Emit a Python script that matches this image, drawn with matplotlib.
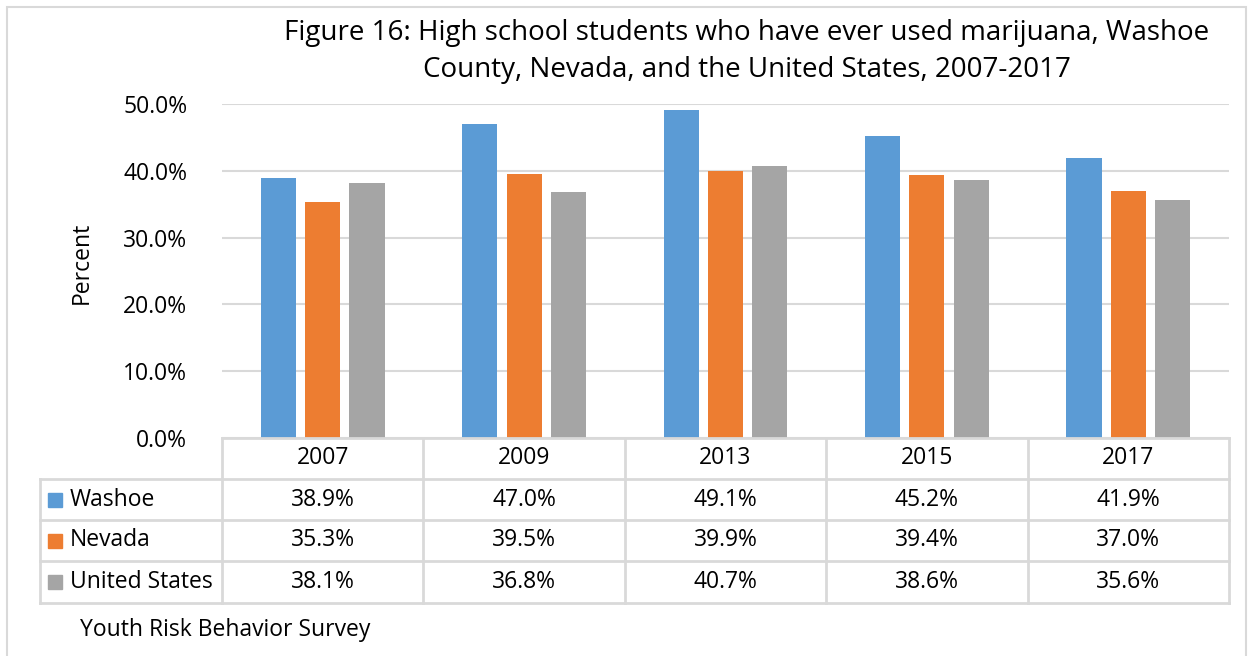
import numpy as np
import matplotlib.pyplot as plt
from matplotlib.patches import Rectangle
from matplotlib.lines import Line2D

years = ['2007', '2009', '2013', '2015', '2017']
series = ['Washoe', 'Nevada', 'United States']
washoe = [38.9, 47.0, 49.1, 45.2, 41.9]
nevada = [35.3, 39.5, 39.9, 39.4, 37.0]
usa = [38.1, 36.8, 40.7, 38.6, 35.6]
colors = ['#5B9BD5', '#ED7D31', '#A5A5A5']
grid_col = '#D9D9D9'

plt.rcParams['font.family'] = ['Open Sans', 'DejaVu Sans']

W, H = 1250, 656
fig = plt.figure(figsize=(W/100, H/100), dpi=100)
fs = 16.5

def fx(px):
    return px / W

def fy(py):
    return 1 - py / H

# plot area
x0, x1 = 222, 1229
y_top, y_bot = 104, 438
ax = fig.add_axes([fx(x0), fy(y_bot), fx(x1) - fx(x0), fy(y_top) - fy(y_bot)])
ax.set_xlim(-0.5, 4.5)
ax.set_ylim(0, 50)

x = np.arange(len(years))
bw = 0.174
step = 0.220
for k, vals in enumerate([washoe, nevada, usa]):
    ax.bar(x + (k - 1) * step, vals, width=bw, color=colors[k], zorder=3)

ax.set_yticks(np.arange(0, 51, 10))
ax.set_yticklabels(['%.1f%%' % v for v in np.arange(0, 51, 10)], fontsize=fs)
ax.yaxis.grid(True, color=grid_col, lw=1.5, zorder=0)
ax.tick_params(axis='y', length=0, pad=25)
ax.set_xticks([])
for s in ax.spines.values():
    s.set_visible(False)

# figure border
fig.add_artist(Rectangle((fx(7), fy(660)), fx(1246) - fx(7), fy(7) - fy(660),
                         transform=fig.transFigure, fill=False, ec=grid_col, lw=1.5))

# title
fig.text(fx(747), fy(33), 'Figure 16: High school students who have ever used marijuana, Washoe',
         ha='center', va='center', fontsize=20)
fig.text(fx(747), fy(70), 'County, Nevada, and the United States, 2007-2017',
         ha='center', va='center', fontsize=20)

fig.text(fx(82), fy(263), 'Percent', rotation=90, ha='center', va='center', fontsize=fs)

# data table below the axis
col_w = (x1 - x0) / len(years)
rows_y = [438, 479, 520, 561, 603]
tab_left = 40

def hline(py, xa, xb):
    fig.add_artist(Line2D([fx(xa), fx(xb)], [fy(py), fy(py)], transform=fig.transFigure,
                          color=grid_col, lw=2))

def vline(px, ya, yb):
    fig.add_artist(Line2D([fx(px), fx(px)], [fy(ya), fy(yb)], transform=fig.transFigure,
                          color=grid_col, lw=2))

hline(rows_y[0], x0, x1)
for py in rows_y[1:]:
    hline(py, tab_left, x1)
vline(tab_left, rows_y[1], rows_y[-1])
for i in range(len(years) + 1):
    vline(x0 + i * col_w, rows_y[0], rows_y[-1])

for i, yr in enumerate(years):
    cx = x0 + (i + 0.5) * col_w
    fig.text(fx(cx), fy((rows_y[0] + rows_y[1]) / 2), yr, ha='center', va='center', fontsize=fs)

for r, vals in enumerate([washoe, nevada, usa]):
    cy = (rows_y[r + 1] + rows_y[r + 2]) / 2
    fig.add_artist(Rectangle((fx(48), fy(cy + 7)), fx(14), fy(0) - fy(14),
                             transform=fig.transFigure, color=colors[r]))
    fig.text(fx(70), fy(cy), series[r], ha='left', va='center', fontsize=fs)
    for i, v in enumerate(vals):
        cx = x0 + (i + 0.5) * col_w
        fig.text(fx(cx), fy(cy), '%.1f%%' % v, ha='center', va='center', fontsize=fs)

fig.text(fx(80), fy(630), 'Youth Risk Behavior Survey', ha='left', va='center', fontsize=fs)

fig.savefig('out.png', dpi=100)
